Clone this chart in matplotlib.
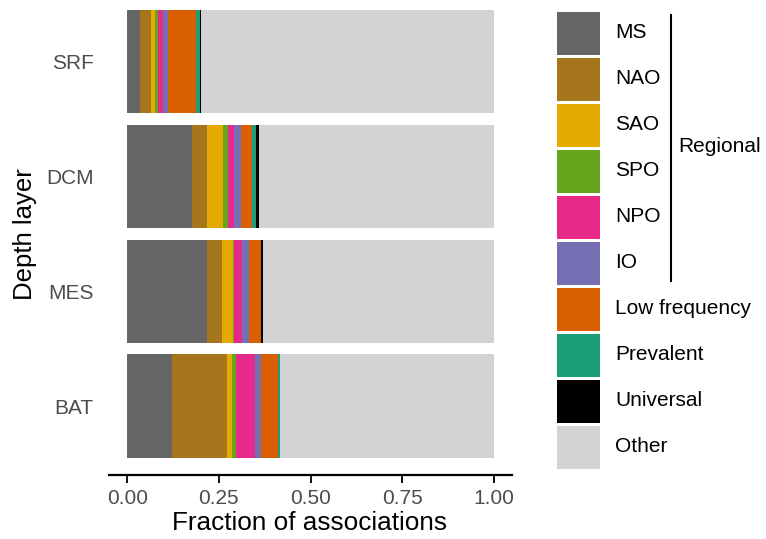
import numpy as np
import matplotlib
matplotlib.use('Agg')
import matplotlib.pyplot as plt
from matplotlib.patches import Rectangle

plt.rcParams['font.family'] = ['Liberation Sans', 'DejaVu Sans']

# Dati: frazione di associazioni per strato di profondita'
layers = ['BAT', 'MES', 'DCM', 'SRF']
categories = ['MS', 'NAO', 'SAO', 'SPO', 'NPO', 'IO',
              'Low frequency', 'Prevalent', 'Universal', 'Other']
colors = ['#666666', '#A6761D', '#E6AB02', '#66A61E', '#E7298A', '#7570B3',
          '#D95F02', '#1B9E77', '#000000', '#D3D3D3']

# valori per categoria, ordine: BAT, MES, DCM, SRF
ms = [0.122, 0.218, 0.177, 0.035]
nao = [0.150, 0.040, 0.041, 0.030]
sao = [0.014, 0.031, 0.043, 0.011]
spo = [0.011, 0.002, 0.014, 0.008]
npo = [0.052, 0.021, 0.016, 0.014]
io = [0.017, 0.021, 0.020, 0.013]
low_freq = [0.045, 0.032, 0.029, 0.077]
prevalent = [0.006, 0.001, 0.011, 0.010]
universal = [0.000, 0.003, 0.008, 0.002]
other = [0.583, 0.631, 0.641, 0.800]

series = [ms, nao, sao, spo, npo, io, low_freq, prevalent, universal, other]

W, H = 766, 539
fig = plt.figure(figsize=(W / 100, H / 100), dpi=100)

# area del grafico (in pixel)
x0, x1, y_top, y_bot = 109, 512, 0, 475
ax = fig.add_axes([x0 / W, 1 - y_bot / H, (x1 - x0) / W, (y_bot - y_top) / H])

y = np.arange(len(layers))
left = np.zeros(len(layers))
for vals, col in zip(series, colors):
    ax.barh(y, vals, left=left, height=0.9, color=col, linewidth=0)
    left += np.array(vals)

ax.set_xlim(-0.05, 1.05)
ax.set_ylim(-0.6, 3.536)
ax.set_xticks([0, 0.25, 0.5, 0.75, 1.0])
ax.set_xticklabels(['0.00', '0.25', '0.50', '0.75', '1.00'])
ax.set_yticks(y)
ax.set_yticklabels(layers)
for s in ['top', 'right', 'left']:
    ax.spines[s].set_visible(False)
ax.spines['bottom'].set_linewidth(1.6)
ax.tick_params(axis='x', length=5.5, width=1.3, pad=4.5, labelsize=15, labelcolor='#4D4D4D')
ax.tick_params(axis='y', length=0, pad=11, labelsize=15, labelcolor='#4D4D4D')

fig.text(310 / W, 1 - 523 / H, 'Fraction of associations', ha='center', va='center', fontsize=18.8)
fig.text(25 / W, 1 - 234 / H, 'Depth layer', ha='center', va='center', rotation=90, fontsize=18.5)

# legenda disegnata a mano
lg = fig.add_axes([0, 0, 1, 1])
lg.set_xlim(0, W)
lg.set_ylim(H, 0)
lg.axis('off')
step = 46.0
for i, (cat, col) in enumerate(zip(categories, colors)):
    top = 12 + i * step
    lg.add_patch(Rectangle((557, top), 43, 43, color=col, linewidth=0))
    lg.text(615, top + 21, cat, ha='left', va='center', fontsize=15)

lg.plot([671, 671], [15, 281], color='black', linewidth=1.5)
lg.text(678, 147, 'Regional', ha='left', va='center', fontsize=15)

fig.savefig('out.png', dpi=100)
